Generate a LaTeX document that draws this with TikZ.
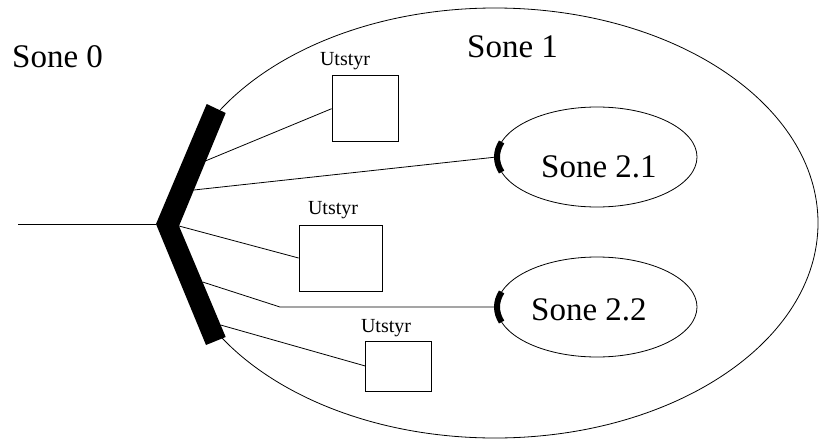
\documentclass[tikz,border=0pt]{standalone}
\usepackage{fontspec}
\setmainfont{Liberation Serif}
\usetikzlibrary{shapes.geometric}

\begin{document}
\begin{tikzpicture}[x=1pt, y=-1pt,
    zone/.style={font=\fontsize{33}{36}\selectfont, anchor=base west, inner sep=0pt},
    unit/.style={font=\fontsize{20}{22}\selectfont, anchor=base, inner sep=0pt},
    box/.style={draw, line width=0.8pt, minimum width=66pt, minimum height=66pt, inner sep=0pt},
    wire/.style={line width=0.8pt},
    bracket/.style={line width=6pt}]
    \useasboundingbox (0,0) rectangle (819,439);

    % Zones
    \node[ellipse, draw, wire, minimum width=646pt, minimum height=430pt] (z1) at (495,223) {};
    \node[ellipse, draw, wire, minimum width=200pt, minimum height=100pt] (z21) at (597,157) {};
    \node[ellipse, draw, wire, minimum width=200pt, minimum height=100pt] (z22) at (597,307) {};
    \node[zone] (s0) at (12,67) {Sone 0};
    \node[zone] (s1) at (467,57) {Sone 1};
    \node[zone] (s21) at (541,177) {Sone 2.1};
    \node[zone] (s22) at (531,320) {Sone 2.2};

    % Equipment
    \node[box] (u1) at (365,108.7) {};
    \node[box, minimum width=83pt] (u2) at (340.5,258) {};
    \node[box, minimum height=50pt] (u3) at (398.7,366) {};
    \node[unit] (l1) at (345,65) {Utstyr};
    \node[unit] (l2) at (333,214) {Utstyr};
    \node[unit] (l3) at (386,332) {Utstyr};

    % Junction
    \coordinate (vt1) at (206.7,104);
    \coordinate (vt2) at (225.7,113);
    \coordinate (vl) at (156,224);
    \coordinate (vi) at (179,226);
    \coordinate (vb1) at (206,345);
    \coordinate (vb2) at (225.7,337);
    \coordinate (p1) at (206,160.7);
    \coordinate (p2) at (193.9,190);
    \coordinate (p4) at (202.6,282);
    \coordinate (p5) at (220.6,325);
    \coordinate (bend) at (280,307);
    \coordinate (in) at (18,224);

    % Edges
    \draw[wire] (in) -- (vl);
    \draw[wire] (p1) -- (u1.west);
    \draw[wire] (p2) -- (z21.west);
    \draw[wire] (vi) -- (u2.west);
    \draw[wire] (p4) -- (bend) -- (z22.west);
    \draw[wire] (p5) -- (u3.west);

    % Brackets
    \draw[bracket] (z21.center) ++(162.5:100pt and 50pt) arc[start angle=162.5, end angle=197.5, x radius=100pt, y radius=50pt];
    \draw[bracket] (z22.center) ++(162.5:100pt and 50pt) arc[start angle=162.5, end angle=197.5, x radius=100pt, y radius=50pt];

    % V
    \fill (vt1) -- (vl) -- (vb1) -- (vb2) -- (vi) -- (vt2) -- cycle;
  \end{tikzpicture}
\end{document}
